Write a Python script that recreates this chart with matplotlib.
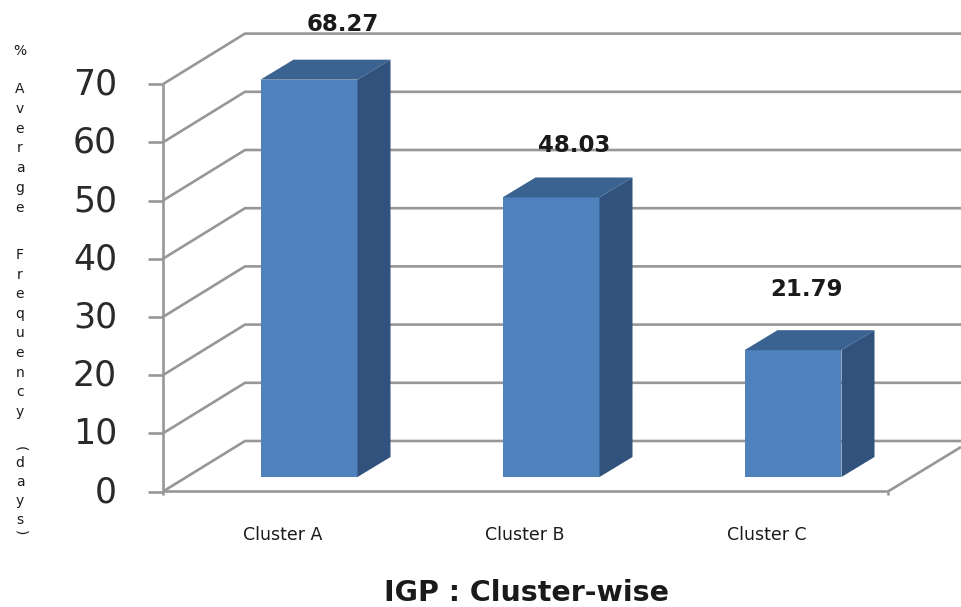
import matplotlib
matplotlib.use('Agg')
import matplotlib.pyplot as plt
from matplotlib.patches import Polygon

categories = ['Cluster A', 'Cluster B', 'Cluster C']
values = [68.27, 48.03, 21.79]
y_ticks = [0, 10, 20, 30, 40, 50, 60, 70]
x_title = 'IGP : Cluster-wise'

W, H = 961, 607
PX_PER_UNIT = 5.82   # one value unit on the bar plane
BASE_PX = 477        # pixel row of value 0 at the bars
BAR_X0 = 309         # pixel column of first bar centre
BAR_STEP = 242
GREY = '#979797'
FRONT, TOP, SIDE = '#4f81bd', '#3b6391', '#30527c'
# where the value labels sit, in pixels
label_px = [(343, 24), (574, 145), (806, 289)]

fig = plt.figure(figsize=(W / 100, H / 100), dpi=100)
ax = fig.add_axes([0, 0, 1, 1])
ax.set_xlim(-BAR_X0 / BAR_STEP, (W - BAR_X0) / BAR_STEP)
ax.set_ylim((BASE_PX - H) / PX_PER_UNIT, BASE_PX / PX_PER_UNIT)
ax.set_axis_off()


def col(px):
    return (px - BAR_X0) / BAR_STEP


def val(py):
    return (BASE_PX - py) / PX_PER_UNIT


front_off = val(491.5)   # wall offsets, as value units
back_off = val(441)
line = dict(color=GREY, lw=1.9, solid_capstyle='butt', zorder=1)

# walls and gridlines
for v in y_ticks:
    ax.plot([col(163), col(245), col(W)], [v + front_off, v + back_off, v + back_off], **line)
    ax.plot([col(148), col(163)], [v + front_off, v + front_off], **line)
    ax.text(col(117), v + front_off - 0.1, str(v), ha='right', va='center',
            fontsize=25, color='#2a2a2a')
ax.plot([col(163), col(163)], [val(495), 70 + front_off], **line)
ax.plot([col(163), col(888), col(W)], [front_off, front_off, val(447)], **line)
ax.plot([col(888), col(888)], [front_off, val(495)], **line)

# bars
width = 97 / BAR_STEP
depth_x = 33 / BAR_STEP
depth_y = 20 / PX_PER_UNIT
for i, v in enumerate(values):
    l, r = i - width / 2, i + width / 2
    ax.bar(i, v, width=width, color=FRONT, zorder=3)
    ax.add_patch(Polygon([(l, v), (r, v), (r + depth_x, v + depth_y), (l + depth_x, v + depth_y)],
                         closed=True, fc=TOP, ec='none', zorder=3))
    ax.add_patch(Polygon([(r, 0), (r + depth_x, depth_y), (r + depth_x, v + depth_y), (r, v)],
                         closed=True, fc=SIDE, ec='none', zorder=3))
    ax.text(col(label_px[i][0]), val(label_px[i][1]), '%.2f' % v, ha='center', va='center',
            fontsize=16.5, fontweight='bold', color='#1a1a1a', zorder=4)
    ax.text(i - 0.107, val(535.5), categories[i], ha='center', va='center',
            fontsize=12.5, color='#1a1a1a')

ax.text(col(527), val(593), x_title, ha='center', va='center', fontsize=20.5,
        fontweight='bold', color='#1a1a1a')

# stacked y label
for word, start, step in [('%', 51, 0), ('Average', 89, 19.8), ('Frequency', 255, 19.6), ('days', 463, 19)]:
    for n, ch in enumerate(word):
        ax.text(col(20), val(start + n * step), ch, ha='center', va='center',
                fontsize=10, color='#1a1a1a')
ax.text(col(20), val(449), '(', rotation=-90, ha='center', va='center', fontsize=10, color='#1a1a1a')
ax.text(col(20), val(533), ')', rotation=-90, ha='center', va='center', fontsize=10, color='#1a1a1a')

fig.savefig('out.png', dpi=100)
